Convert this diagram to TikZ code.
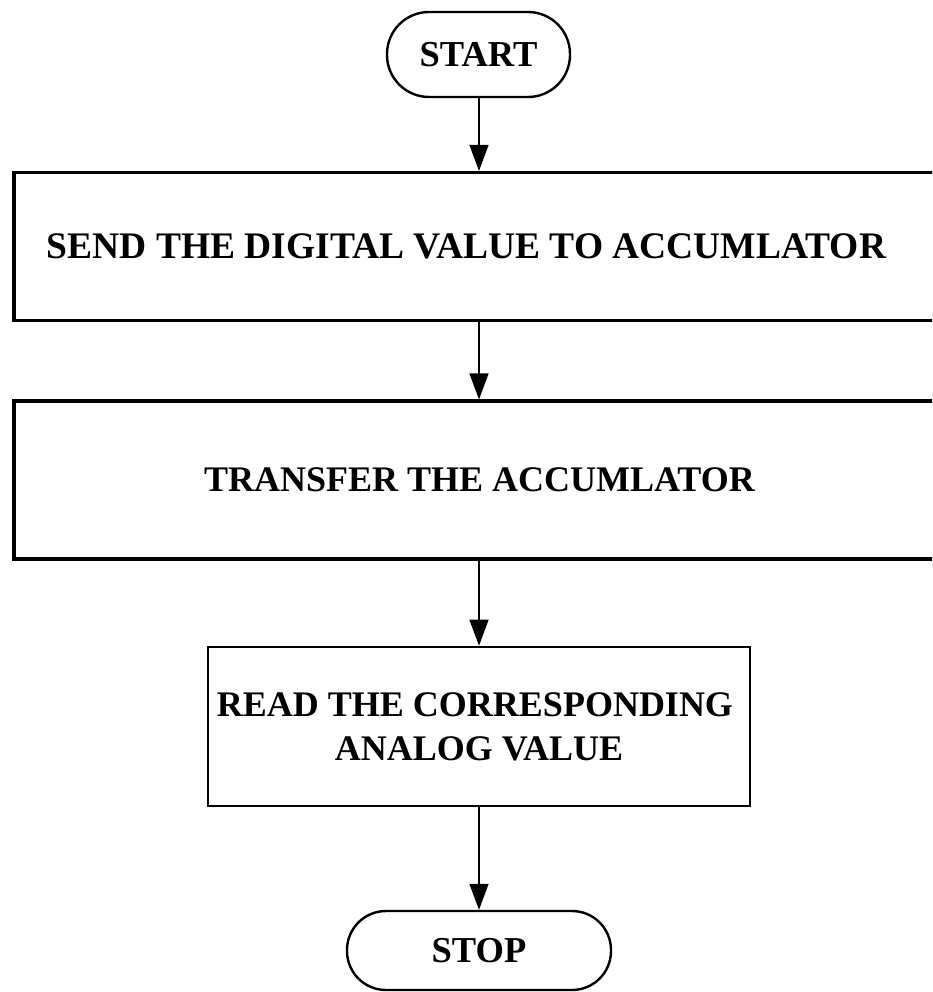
\documentclass[tikz,border=0pt]{standalone}
\usepackage{fontspec}
\setmainfont{Liberation Serif}
\usetikzlibrary{arrows.meta}
\begin{document}
\begin{tikzpicture}[x=1pt,y=-1pt,
  procbox/.style={draw=black,rectangle,inner sep=0pt,line width=3.2pt,align=center,
    font=\fontsize{36}{44}\selectfont\bfseries},
  termbox/.style={draw=black,rectangle,inner sep=0pt,line width=2.4pt,align=center,
    font=\fontsize{36.5}{44}\selectfont\bfseries},
  flow/.style={line width=1.4pt,-{Triangle[length=26pt,width=19pt]}}]
\useasboundingbox (0,0) rectangle (932,992);
\begin{scope}
\clip (0,0) rectangle (932,992);
\node[termbox,minimum width=183pt,minimum height=85pt,rounded corners=42pt] (start) at (478.5,54.5) {START};
\node[procbox,minimum width=931pt,minimum height=148pt,font=\fontsize{37.5}{44}\selectfont\bfseries] (send) at (479.5,246.5) {SEND THE DIGITAL VALUE TO ACCUMLATOR\hspace*{26pt}};
\node[procbox,minimum width=931pt,minimum height=158pt] (trans) at (479.5,480) {TRANSFER THE ACCUMLATOR};
\node[procbox,line width=2.6pt,minimum width=542pt,minimum height=159pt] (read) at (479,726.5) {READ THE CORRESPONDING\hspace*{8pt}\\ANALOG VALUE};
\node[termbox,minimum width=264pt,minimum height=79pt,rounded corners=39pt] (stop) at (479,950.5) {STOP};
\end{scope}
\draw[flow] (start.south -| 479,0) -- (send.north -| 479,0);
\draw[flow] (send.south -| 479,0) -- (trans.north -| 479,0);
\draw[flow] (trans.south -| 479,0) -- (read.north);
\draw[flow] (read.south) -- (stop.north);
\end{tikzpicture}
\end{document}
